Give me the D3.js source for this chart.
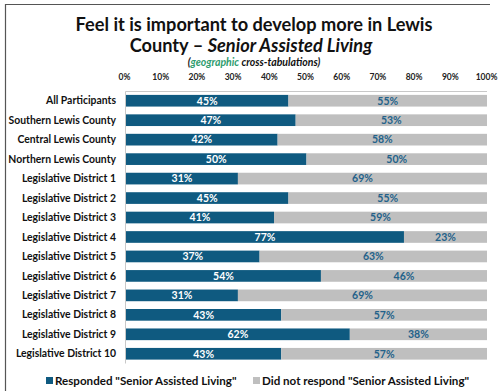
<!DOCTYPE html>
<html>
<head>
<meta charset="utf-8">
<script src="https://cdn.jsdelivr.net/npm/d3@7"></script>
<style>
  html, body { margin: 0; padding: 0; background: #fff; }
  svg { display: block; font-family: Lato, "Open Sans", sans-serif; }
</style>
</head>
<body>
<div id="chart"></div>
<script>
const categories = [
  "All Participants", "Southern Lewis County", "Central Lewis County", "Northern Lewis County",
  "Legislative District 1", "Legislative District 2", "Legislative District 3", "Legislative District 4",
  "Legislative District 5", "Legislative District 6", "Legislative District 7", "Legislative District 8",
  "Legislative District 9", "Legislative District 10"
];
const responded = [45, 47, 42, 50, 31, 45, 41, 77, 37, 54, 31, 43, 62, 43];
const notResponded = [55, 53, 58, 50, 69, 55, 59, 23, 63, 46, 69, 57, 38, 57];
const ticks = [0, 10, 20, 30, 40, 50, 60, 70, 80, 90, 100];
const seriesNames = ['Responded "Senior Assisted Living"', 'Did not respond "Senior Assisted Living"'];

const W = 498, H = 391;
const dark = "#0f5a80", grey = "#bfbfbf", valueBlue = "#23628a";

const svg = d3.select("#chart").append("svg")
  .attr("width", W).attr("height", H);

// frame of the slide crop
svg.append("path")
  .attr("d", "M5.5,391 V4.5 H490")
  .attr("fill", "none").attr("stroke", "#555").attr("stroke-width", 1.2);

// title
const title = svg.append("g").attr("font-weight", 700).attr("text-anchor", "middle").attr("fill", "#111");
title.append("text").attr("x", 254).attr("y", 31).attr("font-size", 18.2)
  .text("Feel it is important to develop more in Lewis");
const t2 = title.append("text").attr("x", 251).attr("y", 52).attr("font-size", 18.2);
t2.append("tspan").text("County \u2013 ");
t2.append("tspan").attr("font-style", "italic").text("Senior Assisted Living");
const t3 = title.append("text").attr("x", 254).attr("y", 66).attr("font-size", 10.5).attr("font-style", "italic");
t3.append("tspan").text("(");
t3.append("tspan").attr("fill", "#2e9c6e").text("geographic");
t3.append("tspan").text(" cross-tabulations)");

const x = d3.scaleLinear().domain([0, 100]).range([126, 487]);
const y = d3.scaleBand().domain(categories).range([91, 363.5]).paddingInner(0.4).paddingOuter(0.2);

// top axis labels
const xTicks = d3.scaleLinear().domain([0, 100]).range([124, 486]);
svg.append("g")
  .attr("transform", "translate(0,80)")
  .call(d3.axisTop(xTicks).tickValues(ticks).tickFormat(d => d + "%").tickSize(0).tickPadding(0))
  .call(ax => ax.select(".domain").remove())
  .call(ax => ax.selectAll("text")
    .attr("font-size", 8.5).attr("font-weight", 700).attr("fill", "#222")
    .attr("font-family", "Lato, sans-serif"));

// plot frame lines
svg.append("path")
  .attr("d", `M${x(0) - 0.5},363.5 V91.5 H${x(100)}`)
  .attr("fill", "none").attr("stroke", "#c8c8c8").attr("stroke-width", 1);

// category labels
svg.append("g")
  .selectAll("text")
  .data(categories)
  .join("text")
    .attr("x", 116)
    .attr("y", d => y(d) + y.bandwidth() / 2)
    .attr("dy", "0.35em")
    .attr("text-anchor", "end")
    .attr("font-size", 10.4)
    .attr("font-weight", 700)
    .attr("fill", "#111")
    .text(d => d);

const rows = categories.map((c, i) => ({ cat: c, a: responded[i], b: notResponded[i] }));

const bars = svg.append("g");
bars.selectAll("rect.a")
  .data(rows)
  .join("rect")
    .attr("class", "a")
    .attr("x", x(0))
    .attr("y", d => y(d.cat))
    .attr("width", d => x(d.a) - x(0))
    .attr("height", y.bandwidth())
    .attr("fill", dark);
bars.selectAll("rect.b")
  .data(rows)
  .join("rect")
    .attr("class", "b")
    .attr("x", d => x(d.a))
    .attr("y", d => y(d.cat))
    .attr("width", d => x(d.a + d.b) - x(d.a))
    .attr("height", y.bandwidth())
    .attr("fill", grey);

const labels = svg.append("g").attr("font-size", 10.5).attr("font-weight", 700).attr("text-anchor", "middle");
labels.selectAll("text.a")
  .data(rows)
  .join("text")
    .attr("class", "a")
    .attr("x", d => x(d.a / 2))
    .attr("y", d => y(d.cat) + y.bandwidth() / 2)
    .attr("dy", "0.36em")
    .attr("fill", "#fff")
    .text(d => d.a + "%");
labels.selectAll("text.b")
  .data(rows)
  .join("text")
    .attr("class", "b")
    .attr("x", d => x(d.a + d.b / 2))
    .attr("y", d => y(d.cat) + y.bandwidth() / 2)
    .attr("dy", "0.36em")
    .attr("fill", valueBlue)
    .text(d => d.b + "%");

// legend
const legend = svg.append("g").attr("font-size", 11.6).attr("font-weight", 700).attr("fill", "#111");
const legendItems = [
  { name: seriesNames[0], color: dark, x: 46 },
  { name: seriesNames[1], color: grey, x: 253 }
];
legendItems.forEach(l => {
  legend.append("rect").attr("x", l.x).attr("y", 377).attr("width", 7).attr("height", 7).attr("fill", l.color);
  legend.append("text").attr("x", l.x + 9).attr("y", 385).text(l.name);
});
</script>
</body>
</html>
